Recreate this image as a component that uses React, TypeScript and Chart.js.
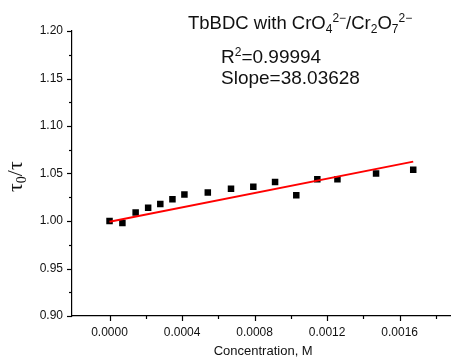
import React, { useEffect, useRef } from "react";
import { Chart, registerables } from "chart.js";

Chart.register(...registerables);

const concentration = [0, 0.000071, 0.000144, 0.000213, 0.00028, 0.000347, 0.000413, 0.000542, 0.00067, 0.000793, 0.000913, 0.00103, 0.001146, 0.001257, 0.00147, 0.001675];
const ratio = [1.0, 0.998, 1.009, 1.014, 1.018, 1.023, 1.028, 1.030, 1.034, 1.036, 1.041, 1.027, 1.044, 1.044, 1.050, 1.054];
const fitX = [0, 0.001675];
const fitY = [0.9993, 1.0625];
const xTicks = [0, 0.0002, 0.0004, 0.0006, 0.0008, 0.001, 0.0012, 0.0014, 0.0016, 0.0018];
const yTicks = [0.9, 0.925, 0.95, 0.975, 1.0, 1.025, 1.05, 1.075, 1.1, 1.125, 1.15, 1.175, 1.2];
const titleText = "TbBDC with CrO";
const slopeText = "Slope=38.03628";
const xTitle = "Concentration, M";

const SANS = '"Liberation Sans", Arial, sans-serif';
const SERIF = '"Liberation Serif", "Times New Roman", serif';

type Part = { t: string; size: number; dy: number; font?: string };

function drawRich(ctx: CanvasRenderingContext2D, x: number, y: number, parts: Part[]) {
  let cx = x;
  for (const p of parts) {
    ctx.font = `${p.size}px ${p.font || SANS}`;
    ctx.fillText(p.t, cx, y + p.dy);
    cx += ctx.measureText(p.t).width;
  }
}

const isMajorX = (v: number) => Math.round(v * 10000) % 4 === 0;
const isMajorY = (v: number) => Math.round(v * 1000) % 50 === 0;

const decorPlugin = {
  id: "decor",
  afterDraw(chart: any) {
    const ctx: CanvasRenderingContext2D = chart.ctx;
    const xs = chart.scales.x;
    const ys = chart.scales.y;
    const area = chart.chartArea;
    ctx.save();
    ctx.strokeStyle = "#000";
    ctx.lineWidth = 1.2;
    for (const v of xTicks) {
      const px = Math.round(xs.getPixelForValue(v)) + 0.5;
      const len = isMajorX(v) ? 5 : 3;
      ctx.beginPath();
      ctx.moveTo(px, area.bottom);
      ctx.lineTo(px, area.bottom + len);
      ctx.stroke();
    }
    for (const v of yTicks) {
      const py = Math.round(ys.getPixelForValue(v)) + 0.5;
      const len = isMajorY(v) ? 5 : 3;
      ctx.beginPath();
      ctx.moveTo(area.left, py);
      ctx.lineTo(area.left - len, py);
      ctx.stroke();
    }
    ctx.fillStyle = "#111";
    ctx.textBaseline = "alphabetic";
    ctx.textAlign = "left";
    drawRich(ctx, 188, 29, [
      { t: titleText, size: 18.5, dy: 0 },
      { t: "4", size: 12, dy: 4 },
      { t: "2−", size: 12, dy: -7 },
      { t: "/Cr", size: 18.5, dy: 0 },
      { t: "2", size: 12, dy: 4 },
      { t: "O", size: 18.5, dy: 0 },
      { t: "7", size: 12, dy: 4 },
      { t: "2−", size: 12, dy: -7 },
    ]);
    drawRich(ctx, 221, 63, [
      { t: "R", size: 19, dy: 0 },
      { t: "2", size: 12, dy: -7 },
      { t: "=0.99994", size: 19, dy: 0 },
    ]);
    drawRich(ctx, 221, 84, [{ t: slopeText, size: 19, dy: 0 }]);
    ctx.font = `13px ${SANS}`;
    ctx.textAlign = "center";
    ctx.fillText(xTitle, (area.left + area.right) / 2 + 2, 355);
    ctx.textAlign = "left";
    ctx.translate(22, 192);
    ctx.rotate(-Math.PI / 2);
    drawRich(ctx, 0, 0, [
      { t: "τ", size: 22, dy: 0, font: SERIF },
      { t: "0", size: 14, dy: 4, font: SERIF },
      { t: "/τ", size: 22, dy: 0, font: SERIF },
    ]);
    ctx.restore();
  },
};

export default function App() {
  const ref = useRef<HTMLCanvasElement>(null);
  useEffect(() => {
    document.body.style.margin = "0";
    const chart = new Chart(ref.current!, {
      type: "scatter",
      data: {
        datasets: [
          {
            label: "data",
            data: concentration.map((x, i) => ({ x, y: ratio[i] })),
            pointStyle: "rect",
            pointRadius: 4.6,
            pointBackgroundColor: "#000",
            pointBorderWidth: 0,
            showLine: false,
            order: 2,
          },
          {
            label: "fit",
            data: fitX.map((x, i) => ({ x, y: fitY[i] })),
            showLine: true,
            borderColor: "#ff0000",
            borderWidth: 2,
            pointRadius: 0,
            order: 1,
          },
        ],
      },
      options: {
        responsive: false,
        animation: false,
        layout: { padding: { top: 31, right: 0, left: 0, bottom: 0 } },
        plugins: { legend: { display: false }, tooltip: { enabled: false } },
        scales: {
          x: {
            type: "linear",
            min: -0.000207,
            max: 0.00188,
            afterBuildTicks: (s: any) => {
              s.ticks = xTicks.map((v) => ({ value: v }));
            },
            afterFit: (s: any) => {
              s.height = 44;
            },
            grid: { display: false, drawTicks: false },
            border: { display: true, color: "#000", width: 1.2 },
            ticks: {
              autoSkip: false,
              maxRotation: 0,
              padding: 9,
              color: "#111",
              font: { family: SANS, size: 12 },
              callback: (v: any) => (isMajorX(Number(v)) ? Number(v).toFixed(4) : ""),
            },
          },
          y: {
            type: "linear",
            min: 0.9,
            max: 1.2,
            afterBuildTicks: (s: any) => {
              s.ticks = yTicks.map((v) => ({ value: v }));
            },
            afterFit: (s: any) => {
              s.width = 72;
            },
            grid: { display: false, drawTicks: false },
            border: { display: true, color: "#000", width: 1.2 },
            ticks: {
              autoSkip: false,
              padding: 9,
              color: "#111",
              font: { family: SANS, size: 12 },
              callback: (v: any) => (isMajorY(Number(v)) ? Number(v).toFixed(2) : ""),
            },
          },
        },
      },
      plugins: [decorPlugin],
    } as any);
    return () => chart.destroy();
  }, []);
  return (
    <div style={{ position: "fixed", left: 0, top: 0, width: 455, height: 360, background: "#fff" }}>
      <canvas ref={ref} width={455} height={360} />
    </div>
  );
}
